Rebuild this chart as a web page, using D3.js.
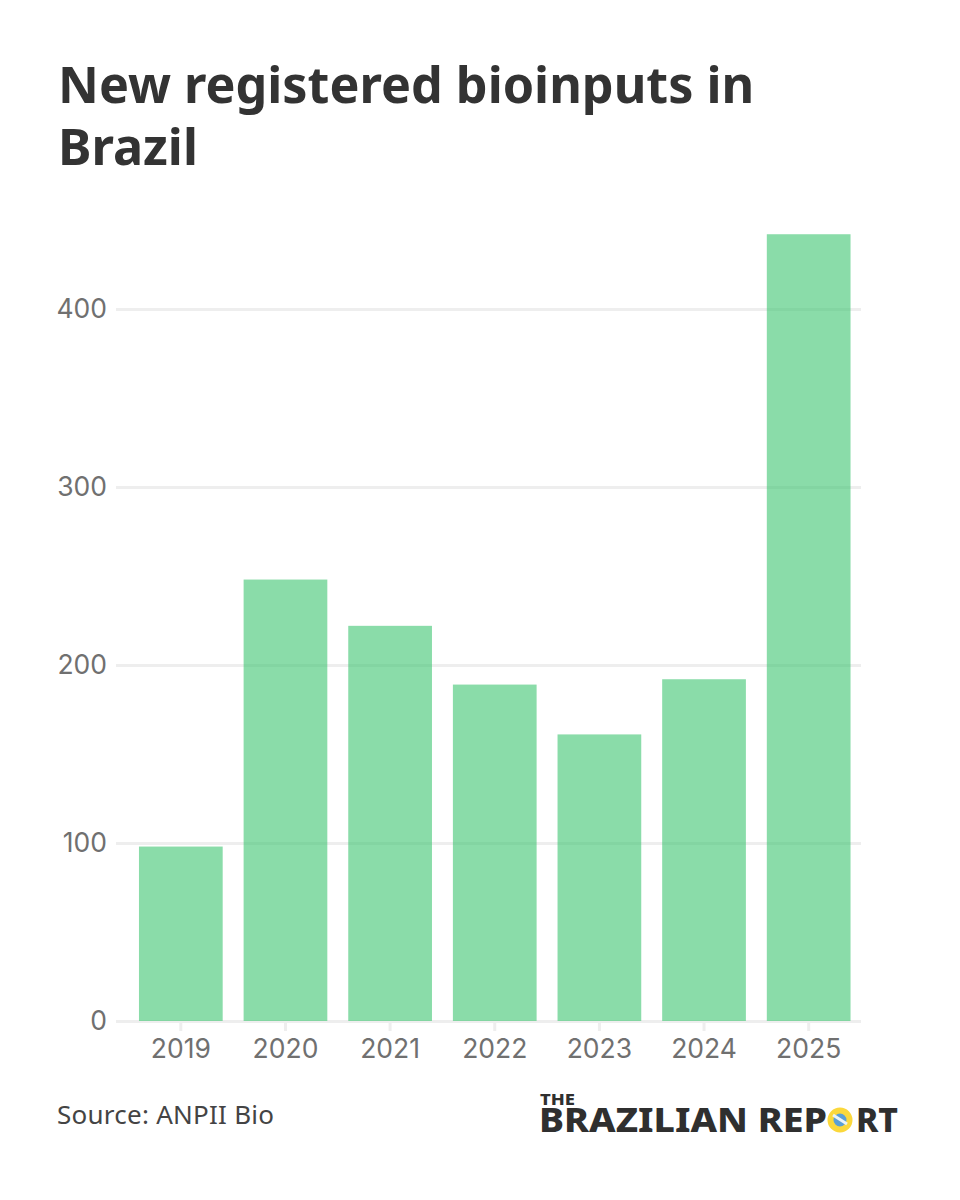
<!DOCTYPE html>
<html>
<head>
<meta charset="utf-8">
<script src="https://cdn.jsdelivr.net/npm/d3@7"></script>
<style>
  html, body { margin: 0; padding: 0; background: #fff; }
  text { font-family: "Noto Sans", sans-serif; }
</style>
</head>
<body>
<svg id="chart" width="960" height="1200"></svg>
<script>
const years = ["2019", "2020", "2021", "2022", "2023", "2024", "2025"];
const registrations = [98, 248, 222, 189, 161, 192, 442];
const yTicks = [0, 100, 200, 300, 400];
const titleLines = ["New registered bioinputs in", "Brazil"];
const source = "Source: ANPII Bio";

const svg = d3.select("#chart");
const tickFont = '"Inter", sans-serif';

const x = d3.scaleBand().domain(years).range([128.5, 861]).paddingInner(0.2).paddingOuter(0.1);
const y = d3.scaleLinear().domain([0, 400]).range([1021, 309]);

// title
svg.selectAll(".title").data(titleLines).join("text")
  .attr("class", "title")
  .attr("x", 58)
  .attr("y", (d, i) => 103 + i * 62)
  .attr("font-size", 50.3)
  .attr("font-weight", 700)
  .attr("fill", "#333333")
  .text(d => d);

// gridlines + y axis
const yAxis = d3.axisLeft(y).tickValues(yTicks).tickSize(0).tickPadding(9);
const yG = svg.append("g").attr("transform", "translate(116,0)").call(yAxis);
yG.select(".domain").remove();
yG.selectAll("line").attr("x1", 0).attr("x2", 861 - 116)
  .attr("stroke", "#eeeeee").attr("stroke-width", 3);
yG.selectAll("text").attr("font-size", 26.5).attr("fill", "#707070")
  .style("font-family", tickFont);

// bars
svg.selectAll(".bar").data(years).join("rect")
  .attr("class", "bar")
  .attr("x", d => x(d))
  .attr("y", (d, i) => y(registrations[i]))
  .attr("width", x.bandwidth())
  .attr("height", (d, i) => y(0) - y(registrations[i]))
  .attr("fill", "#3cc470")
  .attr("fill-opacity", 0.6);

// x axis
const xAxis = d3.axisBottom(x).tickSize(10).tickPadding(8);
const xG = svg.append("g").attr("transform", "translate(0,1021)").call(xAxis);
xG.select(".domain").remove();
xG.selectAll("line").attr("stroke", "#eeeeee").attr("stroke-width", 3);
xG.selectAll("text").attr("font-size", 26.5).attr("fill", "#707070")
  .style("font-family", tickFont);

// source
svg.append("text").attr("x", 57).attr("y", 1124)
  .attr("font-size", 26).attr("letter-spacing", 0.25).attr("fill", "#444444").text(source);

// logo
const logo = svg.append("g").attr("fill", "#2f2f2f").attr("font-weight", 800)
  .style("font-family", tickFont);
logo.append("text").attr("x", 540).attr("y", 1105).attr("font-size", 15).attr("textLength", 35)
  .attr("lengthAdjust", "spacingAndGlyphs").text("THE");
logo.append("text").attr("x", 539).attr("y", 1132).attr("font-size", 33).attr("textLength", 288)
  .attr("lengthAdjust", "spacingAndGlyphs").text("BRAZILIAN REP");
logo.append("text").attr("x", 856).attr("y", 1132).attr("font-size", 33).attr("textLength", 42)
  .attr("lengthAdjust", "spacingAndGlyphs").text("RT");
logo.append("circle").attr("cx", 840).attr("cy", 1120).attr("r", 9.5)
  .attr("fill", "#5b9fd6").attr("stroke", "#fbd83c").attr("stroke-width", 6);
logo.append("path").attr("d", d3.line()([[833, 1115], [847, 1124]]))
  .attr("stroke", "#eaf3fa").attr("stroke-width", 3).attr("fill", "none");
</script>
</body>
</html>
